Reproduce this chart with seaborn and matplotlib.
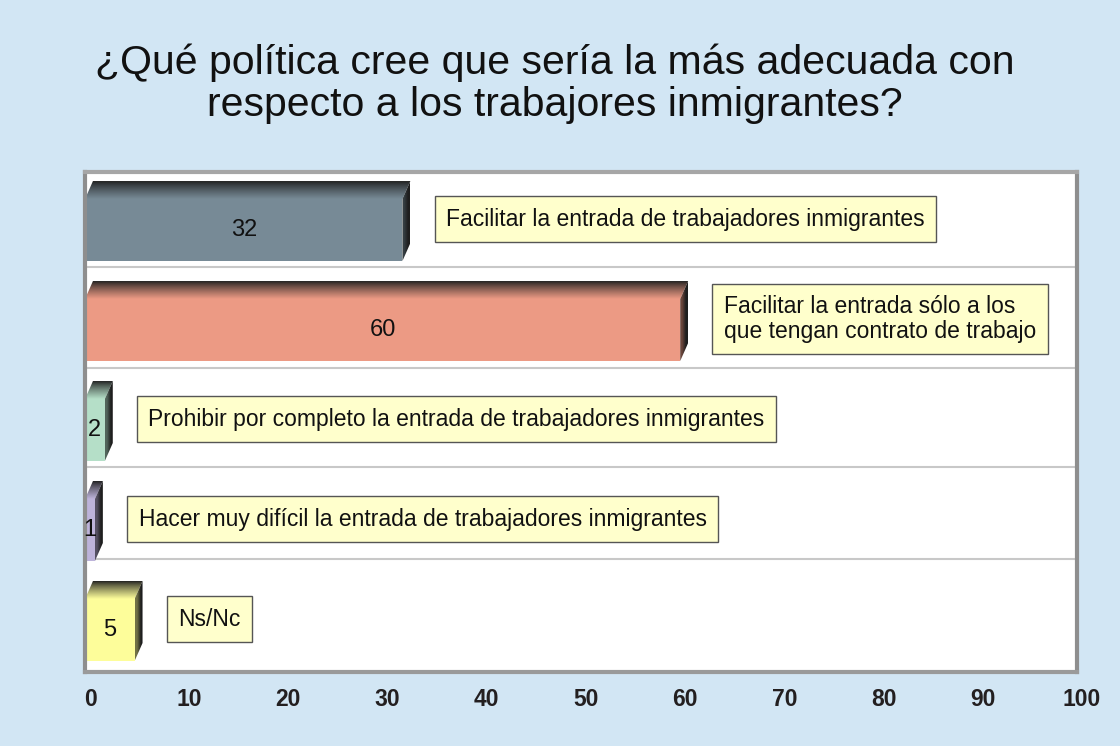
import numpy as np
import pandas as pd
import matplotlib
matplotlib.use('Agg')
import matplotlib.pyplot as plt
import seaborn as sns
from matplotlib.patches import Polygon
from matplotlib.colors import to_rgb
import matplotlib.transforms as mtrans

labels = ["Facilitar la entrada de trabajadores inmigrantes",
          "Facilitar la entrada sólo a los\nque tengan contrato de trabajo",
          "Prohibir por completo la entrada de trabajadores inmigrantes",
          "Hacer muy difícil la entrada de trabajadores inmigrantes",
          "Ns/Nc"]
values = [32, 60, 2, 1, 5]
colors = ["#778A96", "#EC9A84", "#B5DFC8", "#BDB3DA", "#FDFD9A"]
xticks = list(range(0, 101, 10))
title = "¿Qué política cree que sería la más adecuada con\nrespecto a los trabajores inmigrantes?"

sns.set_theme(style='white')
plt.rcParams['font.family'] = ['Liberation Sans', 'DejaVu Sans']

fig = plt.figure(figsize=(11.2, 7.46), dpi=100, facecolor='#D2E6F4')
ax = fig.add_axes([0.0759, 0.0992, 0.8857, 0.6702])
ax.set_facecolor('white')

df = pd.DataFrame({'cat': labels, 'val': values})
sns.barplot(data=df, x='val', y='cat', hue='cat', palette=colors, orient='h',
            width=0.62, ax=ax, legend=False, saturation=1, linewidth=0)

ax.set_xlim(0, 100)
ax.set_ylim(4.5, -0.5)

# separators between rows
for yb in [0.45, 1.46, 2.45, 3.37]:
    ax.axhline(yb, color='#C8C8C8', lw=1.5, zorder=0.5)

bars = sorted(ax.patches, key=lambda p: p.get_y())
shift = 0.08
dx, dy = 0.8, 0.18
for k, p in enumerate(bars):
    p.set_y(p.get_y() + shift)
    p.set_zorder(2)
    x0 = p.get_x()
    v = p.get_width()
    y0 = p.get_y()            # top edge on screen (inverted axis)
    y1 = y0 + p.get_height()  # bottom edge on screen
    col = np.array(to_rgb(p.get_facecolor()))
    dark = np.array([0.12, 0.12, 0.12])
    # top face gradient
    n = 64
    t = np.linspace(0, 1, n)[:, None] ** 0.8
    grad = dark[None, :] * (1 - t) + col[None, :] * t
    grad = np.repeat(grad[:, None, :], 2, axis=1)
    top_poly = Polygon([(x0, y0), (v, y0), (v + dx, y0 - dy), (x0 + dx, y0 - dy)],
                       closed=True, facecolor='none', edgecolor='none')
    ax.add_patch(top_poly)
    im = ax.imshow(grad, extent=(x0, v + dx, y0, y0 - dy), origin='upper',
                   aspect='auto', zorder=2, interpolation='bilinear')
    im.set_clip_path(top_poly)
    # side face gradient
    sgrad = np.array([col * 0.45, dark])
    sgrad = np.repeat(sgrad[None, :, :], 2, axis=0)
    side_poly = Polygon([(v, y0), (v + dx, y0 - dy), (v + dx, y1 - dy), (v, y1)],
                        closed=True, facecolor='none', edgecolor='none')
    ax.add_patch(side_poly)
    im2 = ax.imshow(sgrad, extent=(v, v + dx, y1, y0 - dy), origin='upper',
                    aspect='auto', zorder=2, interpolation='bilinear')
    im2.set_clip_path(side_poly)
    # value label
    ax.text(v / 2, y0 + p.get_height() / 2, f"{values[k]}", ha='center', va='center',
            fontsize=17, color='#111111', zorder=4)
    # category label box
    ax.text(values[k] + 4.4, k - 0.03, labels[k], ha='left', va='center', fontsize=16.5,
            color='#111111', zorder=4, linespacing=1.1,
            bbox=dict(boxstyle='square,pad=0.5', facecolor='#FFFFCC', edgecolor='#555555', lw=1))

ax.set_xlim(0, 100)
ax.set_ylim(4.5, -0.5)

# x tick labels (drawn as text, shifted a little to the right like the reference)
ax.set_xticks(xticks)
ax.set_xticklabels([])
ax.tick_params(axis='x', length=0)
tick_tr = ax.get_xaxis_transform() + mtrans.ScaledTranslation(5 / 100, -28 / 100, fig.dpi_scale_trans)
for tv in xticks:
    ax.text(tv, 0, str(tv), transform=tick_tr, ha='center', va='center', fontsize=16.5,
            fontweight='bold', color='#231F20', clip_on=False)

ax.set_yticks([])
ax.set_xlabel('')
ax.set_ylabel('')
for side in ['left', 'bottom', 'right', 'top']:
    ax.spines[side].set_visible(True)
    ax.spines[side].set_linewidth(3)
ax.spines['left'].set_color('#8E8E8E')
ax.spines['bottom'].set_color('#9A9A9A')
ax.spines['right'].set_color('#8E8E8E')
ax.spines['top'].set_color('#A6A6A6')

fig.text(0.4955, 0.888, title, ha='center', va='center', fontsize=29.5,
         color='#111111', linespacing=1.12)

fig.savefig('out.png', dpi=100, facecolor=fig.get_facecolor())
